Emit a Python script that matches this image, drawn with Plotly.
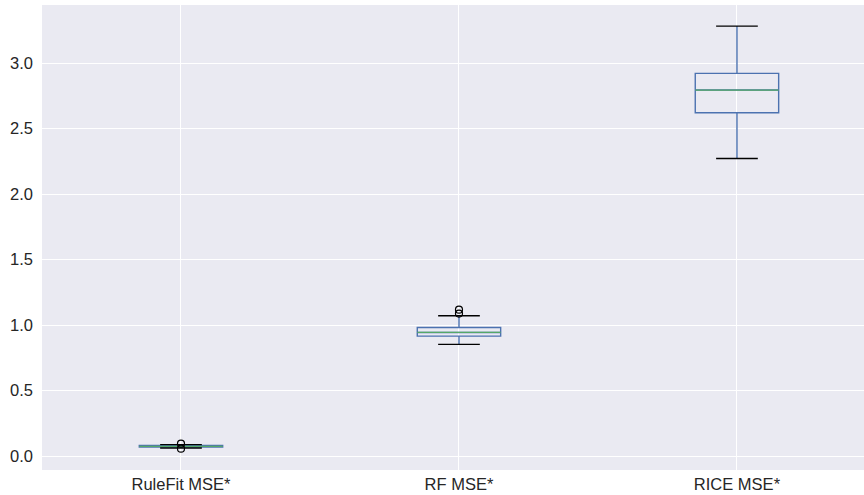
import plotly.graph_objects as go

categories = ["RuleFit MSE*", "RF MSE*", "RICE MSE*"]
lower_whisker = [0.062, 0.853, 2.272]
q1 = [0.070, 0.916, 2.621]
median = [0.075, 0.944, 2.794]
q3 = [0.081, 0.982, 2.921]
upper_whisker = [0.088, 1.071, 3.282]
outliers = [[0.057, 0.095], [1.088, 1.118], []]

positions = [1, 2, 3]
box_w = 0.3
cap_w = 0.15
BLUE = "#4C72B0"
GREEN = "#55A868"

fig = go.Figure()
for p, a, b, c, d, e in zip(positions, lower_whisker, q1, median, q3, upper_whisker):
    fig.add_trace(go.Box(
        x=[p], q1=[b], median=[c], q3=[d], lowerfence=[a], upperfence=[e],
        width=box_w, whiskerwidth=0, fillcolor="rgba(0,0,0,0)",
        line=dict(color=BLUE, width=1.4), boxpoints=False, showlegend=False,
        hoverinfo="skip"))

# caps (black)
cx, cy = [], []
for p, a, e in zip(positions, lower_whisker, upper_whisker):
    cx += [p - cap_w / 2, p + cap_w / 2, None, p - cap_w / 2, p + cap_w / 2, None]
    cy += [a, a, None, e, e, None]
fig.add_trace(go.Scatter(x=cx, y=cy, mode="lines", line=dict(color="black", width=1.4),
                         showlegend=False, hoverinfo="skip"))

# medians (green)
mx, my = [], []
for p, c in zip(positions, median):
    mx += [p - box_w / 2, p + box_w / 2, None]
    my += [c, c, None]
fig.add_trace(go.Scatter(x=mx, y=my, mode="lines", line=dict(color=GREEN, width=1.3),
                         showlegend=False, hoverinfo="skip"))

# outliers
ox, oy = [], []
for p, outs in zip(positions, outliers):
    for v in outs:
        ox.append(p)
        oy.append(v)
fig.add_trace(go.Scatter(x=ox, y=oy, mode="markers",
                         marker=dict(symbol="circle-open", color="black", size=7, line=dict(width=1.2)),
                         showlegend=False, hoverinfo="skip"))

fig.update_layout(
    width=864, height=495,
    margin=dict(l=42, r=0, t=5, b=25),
    plot_bgcolor="#EAEAF2", paper_bgcolor="white",
    font=dict(family="Arial, Liberation Sans, sans-serif", size=16.5, color="#262626"),
    showlegend=False,
)
fig.update_xaxes(range=[0.5, 3.457], tickvals=positions, ticktext=categories,
                 showgrid=True, gridcolor="white", gridwidth=1, zeroline=False,
                 showline=False, ticks="", ticklabelstandoff=2)
fig.update_yaxes(range=[-0.106, 3.443], tickvals=[0, 0.5, 1, 1.5, 2, 2.5, 3],
                 ticktext=["0.0", "0.5", "1.0", "1.5", "2.0", "2.5", "3.0"],
                 showgrid=True, gridcolor="white", gridwidth=1, zeroline=False,
                 showline=False, ticks="", ticklabelstandoff=8)

fig.write_html("out.html", config={"displayModeBar": False},
               post_script="document.body.style.margin='0';document.body.style.padding='0';")
